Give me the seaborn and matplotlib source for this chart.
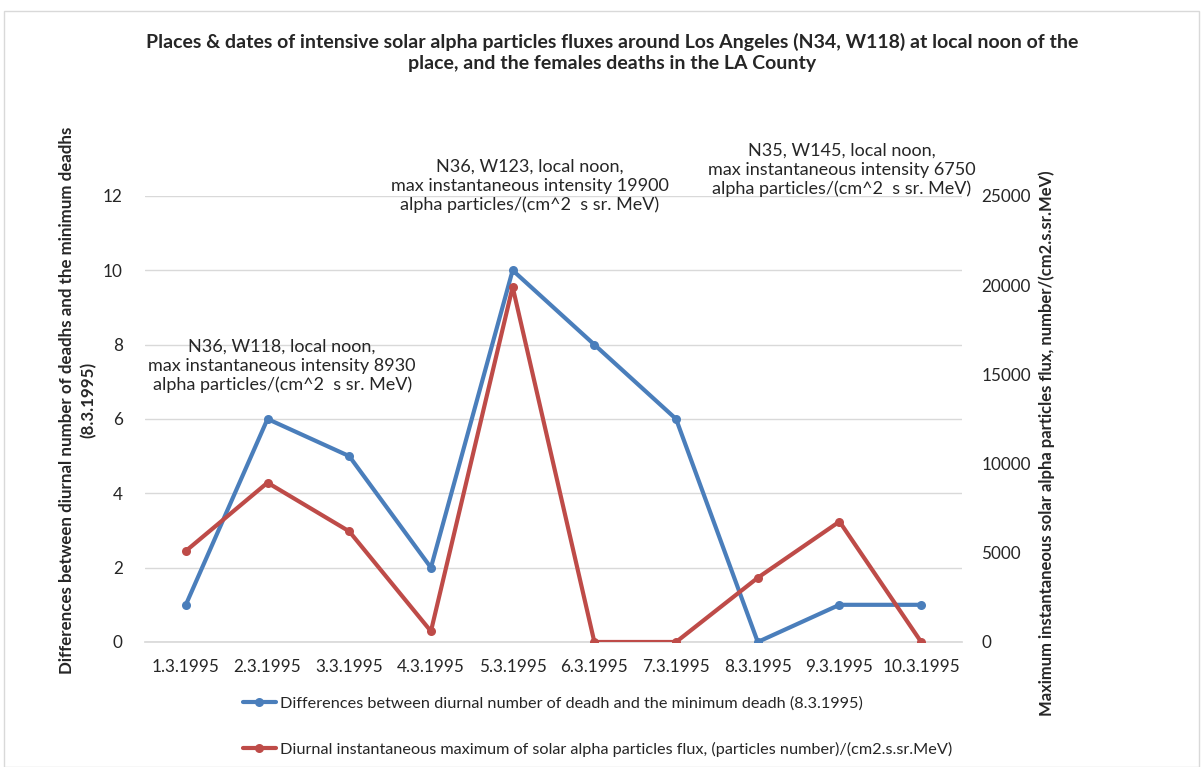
import matplotlib
matplotlib.use("Agg")
import matplotlib.pyplot as plt
import seaborn as sns
import pandas as pd
from matplotlib.lines import Line2D
from matplotlib.patches import Rectangle

dates = ["1.3.1995", "2.3.1995", "3.3.1995", "4.3.1995", "5.3.1995",
         "6.3.1995", "7.3.1995", "8.3.1995", "9.3.1995", "10.3.1995"]
death_diff = [1, 6, 5, 2, 10, 8, 6, 0, 1, 1]
alpha_flux = [5100, 8930, 6200, 600, 19900, 0, 0, 3600, 6750, 0]

death_label = "Differences between diurnal number of deadh and the minimum deadh (8.3.1995)"
flux_label = "Diurnal instantaneous maximum of solar alpha particles flux, (particles number)/(cm2.s.sr.MeV)"

title = ("Places & dates of intensive solar alpha particles fluxes around Los Angeles (N34, W118) at local noon of the\n"
         "place, and the females deaths in the LA County")
left_ylabel = ["Differences between diurnal number of deadhs and the minimum deadhs", "(8.3.1995)"]
right_ylabel = "Maximum instantaneous solar alpha particles flux, number/(cm2.s.sr.MeV)"

notes = [
    "N36, W118, local noon,\nmax instantaneous intensity 8930\nalpha particles/(cm^2  s sr. MeV)",
    "N36, W123, local noon,\nmax instantaneous intensity 19900\nalpha particles/(cm^2  s sr. MeV)",
    "N35, W145, local noon,\nmax instantaneous intensity 6750\nalpha particles/(cm^2  s sr. MeV)",
]
# annotation anchors: x in category units, y as a fraction of the plot height
note_pos = [(1.18, 0.619), (4.21, 1.022), (8.03, 1.058)]

BLUE = "#4A7EBB"
RED = "#BE4B48"
TXT = "#262626"

sns.set_theme(style="white")
plt.rcParams["font.family"] = ["Lato", "DejaVu Sans"]

df = pd.DataFrame({"idx": range(len(dates)), "date": dates,
                   "death": death_diff, "flux": alpha_flux})

W, H = 1203, 767
fig = plt.figure(figsize=(W / 100, H / 100), dpi=100)
fig.patches.append(Rectangle((0.003, 0.0), 0.994, 0.986, transform=fig.transFigure,
                             fill=False, edgecolor="#D9D9D9", linewidth=1.0))
ax = fig.add_axes([0.1205, 0.163, 0.6792, 0.5815])
ax2 = ax.twinx()

LW, MS = 3.0, 6.5
sns.lineplot(data=df, x="idx", y="death", ax=ax, color=BLUE, linewidth=LW,
             marker="o", markersize=MS, markeredgewidth=0, zorder=3)
sns.lineplot(data=df, x="idx", y="flux", ax=ax2, color=RED, linewidth=LW,
             marker="o", markersize=MS, markeredgewidth=0, zorder=3)

ax.set_xlim(-0.5, len(dates) - 0.5)
ax.set_ylim(0, 12)
ax.set_yticks(range(0, 13, 2))
ax2.set_ylim(0, 25000)
ax2.set_yticks(range(0, 25001, 5000))

ax.set_xticks(range(len(dates)))
ax.set_xticklabels(dates)
ax.set_xticks([i + 0.5 for i in range(-1, len(dates))], minor=True)
ax.tick_params(axis="x", which="major", length=0, pad=12, labelsize=12.3, labelcolor=TXT)
ax.tick_params(axis="x", which="minor", length=5, color="#D9D9D9", width=1)
ax.tick_params(axis="y", length=0, pad=16, labelsize=12.3, labelcolor=TXT)
ax2.tick_params(axis="y", length=0, pad=14, labelsize=12.3, labelcolor=TXT)

ax.yaxis.grid(True, color="#D9D9D9", linewidth=1)
ax.set_axisbelow(True)
for a in (ax, ax2):
    for s in ("top", "right", "left"):
        a.spines[s].set_visible(False)
ax.spines["bottom"].set_color("#D9D9D9")
ax2.spines["bottom"].set_visible(False)
ax.set_xlabel("")
ax.set_ylabel("")
ax2.set_ylabel("")

# axis titles placed in figure pixels
fig.text(67 / W, 1 - 400 / H, left_ylabel[0], rotation=90, ha="center", va="center",
         fontsize=12.2, fontweight="bold", color=TXT)
fig.text(88 / W, 1 - 400 / H, left_ylabel[1], rotation=90, ha="center", va="center",
         fontsize=12.2, fontweight="bold", color=TXT)
fig.text(1047 / W, 1 - 443 / H, right_ylabel, rotation=90, ha="center", va="center",
         fontsize=12, fontweight="bold", color=TXT)

fig.text(0.509, 0.932, title, ha="center", va="center", fontsize=14,
         fontweight="bold", color=TXT, linespacing=1.3)

for txt, (px, py) in zip(notes, note_pos):
    ax.text(px, py, txt, transform=ax.get_xaxis_transform(), ha="center", va="center",
            fontsize=13, color=TXT, linespacing=1.22)

handles = [Line2D([0], [0], color=BLUE, lw=LW, marker="o", markersize=MS, markeredgewidth=0),
           Line2D([0], [0], color=RED, lw=LW, marker="o", markersize=MS, markeredgewidth=0)]
fig.legend(handles, [death_label, flux_label], loc="upper left",
           bbox_to_anchor=(0.19, 0.111), frameon=False, fontsize=11.7,
           labelspacing=1.9, handlelength=2.0, handletextpad=0.25, labelcolor=TXT)

fig.savefig("out.png", dpi=100)
